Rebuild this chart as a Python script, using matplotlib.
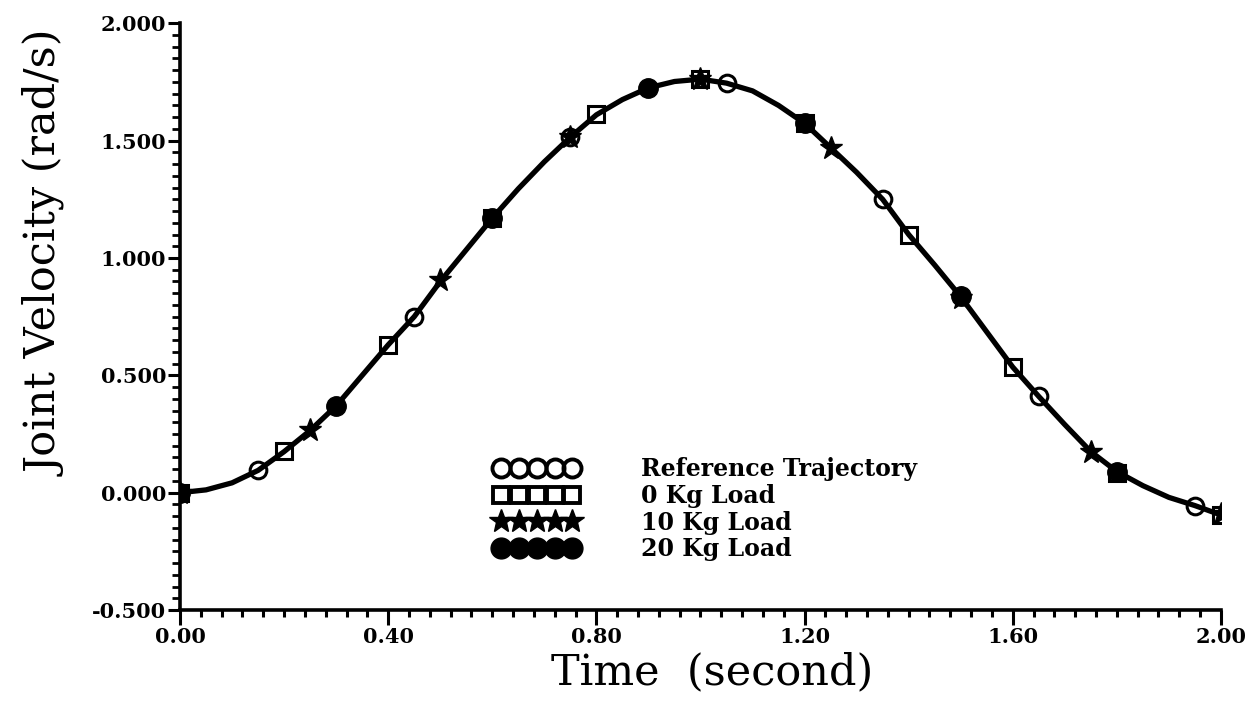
import matplotlib
matplotlib.use("Agg")
import matplotlib.pyplot as plt
from matplotlib.ticker import MultipleLocator, FormatStrFormatter
from matplotlib.lines import Line2D

# Smooth velocity curve
curve_t = [0.00, 0.05, 0.10, 0.15, 0.20, 0.25, 0.30, 0.35, 0.40, 0.45, 0.50,
           0.55, 0.60, 0.65, 0.70, 0.75, 0.80, 0.85, 0.90, 0.95, 1.00,
           1.05, 1.10, 1.15, 1.20, 1.25, 1.30, 1.35, 1.40, 1.45, 1.50,
           1.55, 1.60, 1.65, 1.70, 1.75, 1.80, 1.85, 1.90, 1.95, 2.00]
curve_v = [0.000, 0.012, 0.042, 0.095, 0.175, 0.265, 0.370, 0.500, 0.630, 0.750, 0.900,
           1.035, 1.170, 1.295, 1.410, 1.515, 1.610, 1.675, 1.725, 1.752, 1.762,
           1.745, 1.712, 1.650, 1.574, 1.470, 1.365, 1.250, 1.100, 0.970, 0.835,
           0.685, 0.535, 0.410, 0.290, 0.175, 0.090, 0.030, -0.020, -0.055, -0.095]

# Marker series
ref_t = [0.15, 0.45, 0.75, 1.05, 1.35, 1.65, 1.95]
ref_v = [0.095, 0.750, 1.515, 1.745, 1.250, 0.410, -0.055]

kg0_t = [0.0, 0.2, 0.4, 0.6, 0.8, 1.0, 1.2, 1.4, 1.6, 1.8, 2.0]
kg0_v = [0.0, 0.178, 0.630, 1.170, 1.612, 1.762, 1.574, 1.100, 0.534, 0.085, -0.095]

kg10_t = [0.0, 0.25, 0.5, 0.75, 1.0, 1.25, 1.5, 1.75, 2.0]
kg10_v = [0.0, 0.265, 0.905, 1.515, 1.762, 1.470, 0.830, 0.173, -0.090]

kg20_t = [0.0, 0.3, 0.6, 0.9, 1.2, 1.5, 1.8]
kg20_v = [0.0, 0.370, 1.170, 1.724, 1.574, 0.840, 0.088]

labels = ["Reference Trajectory", "0 Kg Load", "10 Kg Load", "20 Kg Load"]

xticks = [0.0, 0.4, 0.8, 1.2, 1.6, 2.0]
yticks = [-0.5, 0.0, 0.5, 1.0, 1.5, 2.0]

fig = plt.figure(figsize=(12.52, 7.10), dpi=100)
ax = fig.add_axes([0.1438, 0.1408, 0.9752 - 0.1438, 0.9672 - 0.1408])

ax.plot(curve_t, curve_v, color="black", lw=3.8, solid_capstyle="round", zorder=2)

ax.plot(ref_t, ref_v, ls="none", marker="o", ms=12, mfc="none", mec="black", mew=2.2, zorder=3)
ax.plot(kg0_t, kg0_v, ls="none", marker="s", ms=11, mfc="none", mec="black", mew=2.2, zorder=3)
ax.plot(kg10_t, kg10_v, ls="none", marker="*", ms=17, mfc="black", mec="black", mew=1, zorder=4)
ax.plot(kg20_t, kg20_v, ls="none", marker="o", ms=14, mfc="black", mec="black", mew=1, zorder=4)

handles = [
    Line2D([], [], ls="none", marker="o", ms=13, mfc="none", mec="black", mew=2.8),
    Line2D([], [], ls="none", marker="s", ms=12, mfc="none", mec="black", mew=2.8),
    Line2D([], [], ls="none", marker="*", ms=18, mfc="black", mec="black"),
    Line2D([], [], ls="none", marker="o", ms=15, mfc="black", mec="black"),
]
leg = ax.legend(handles, labels, numpoints=5, frameon=False,
                loc="upper left", bbox_to_anchor=(0.302, 0.26),
                prop={"family": "DejaVu Serif", "weight": "bold", "size": 17},
                handlelength=3.6, handletextpad=2.6, labelspacing=0.11,
                borderpad=0, borderaxespad=0)

ax.set_xlim(0.0, 2.0)
ax.set_ylim(-0.5, 2.0)
ax.set_xticks(xticks)
ax.set_yticks(yticks)
ax.xaxis.set_minor_locator(MultipleLocator(0.04))
ax.yaxis.set_minor_locator(MultipleLocator(0.05))
ax.xaxis.set_major_formatter(FormatStrFormatter("%.2f"))
ax.yaxis.set_major_formatter(FormatStrFormatter("%.3f"))

for s in ["top", "right"]:
    ax.spines[s].set_visible(False)
for s in ["left", "bottom"]:
    ax.spines[s].set_linewidth(2.6)

ax.tick_params(axis="x", which="major", direction="out", length=11, width=2.2, pad=1)
ax.tick_params(axis="x", which="minor", direction="out", length=5, width=2.2)
ax.tick_params(axis="y", which="major", direction="out", length=9, width=2.2, pad=1)
ax.tick_params(axis="y", which="minor", direction="out", length=5.5, width=2.0)

for lab in ax.get_xticklabels() + ax.get_yticklabels():
    lab.set_fontfamily("DejaVu Serif")
    lab.set_fontweight("bold")
    lab.set_fontsize(15)

ax.set_xlabel("Time  (second)", family="DejaVu Serif", fontsize=31)
ax.set_ylabel("Joint Velocity (rad/s)", family="DejaVu Serif", fontsize=31)
ax.xaxis.set_label_coords(0.511, -0.071)
ax.yaxis.set_label_coords(-0.108, 0.608)

fig.savefig("out.png", dpi=100)
